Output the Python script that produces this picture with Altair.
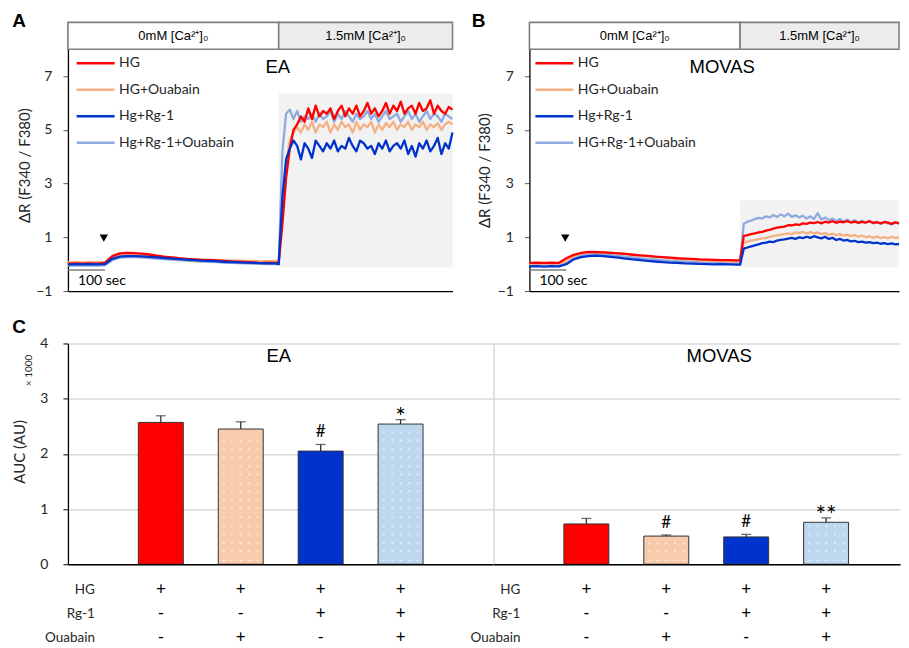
import altair as alt
import pandas as pd

SANS = "Liberation Sans"
CAL = "Lato"
INK = "#262626"

# ---------------- Panels A & B : ratio traces ----------------
T_BASE = list(range(0, 561, 20))
T_SWITCH = [570]
T_PLAT_A = list(range(580, 1041, 10))
T_PLAT_B = list(range(580, 1001, 10))
A_TIME = T_BASE + T_SWITCH + T_PLAT_A
B_TIME = T_BASE + T_SWITCH + T_PLAT_B

A_HG = [0.02, 0.03, 0.02, 0.03, 0.02, 0.05, 0.30, 0.40, 0.42, 0.41, 0.39, 0.36, 0.32, 0.28, 0.25,
        0.22, 0.20, 0.18, 0.16, 0.15, 0.14, 0.12, 0.10, 0.09, 0.08, 0.07, 0.04, 0.06, 0.05] + [0.05] + \
       [1.5, 3.2, 4.3, 5.0, 5.2, 5.5, 5.3, 5.8, 5.4, 5.9, 5.5, 5.7, 5.6, 5.8, 5.4, 5.7, 5.9, 5.5, 5.8, 5.6,
        5.9, 5.5, 5.7, 6.0, 5.6, 5.8, 5.5, 5.7, 6.0, 5.6, 5.9, 5.7, 6.05, 5.6, 5.8, 5.9, 5.6, 6.0, 5.7, 5.8,
        6.1, 5.6, 5.9, 5.7, 5.6, 5.85, 5.75]
A_HGO = [0.07, 0.08, 0.07, 0.08, 0.07, 0.08, 0.25, 0.33, 0.35, 0.35, 0.34, 0.32, 0.29, 0.26, 0.24,
         0.22, 0.20, 0.19, 0.18, 0.17, 0.16, 0.15, 0.14, 0.13, 0.12, 0.12, 0.11, 0.11, 0.12] + [0.10] + \
        [2.0, 3.8, 4.6, 4.9, 5.1, 4.9, 5.2, 5.0, 5.3, 4.9, 5.2, 5.1, 5.3, 4.9, 5.2, 5.0, 5.3, 5.1, 5.2, 4.9,
         5.3, 5.0, 5.2, 5.1, 5.3, 4.9, 5.2, 5.0, 5.25, 5.1, 5.3, 5.0, 5.2, 5.1, 5.3, 5.0, 5.2, 5.1, 5.3, 5.0,
         5.2, 5.1, 5.25, 5.0, 5.2, 5.3, 5.2]
A_RG = [-0.02, 0.00, -0.01, 0.00, -0.01, 0.00, 0.20, 0.28, 0.30, 0.30, 0.29, 0.27, 0.25, 0.23, 0.21,
        0.19, 0.17, 0.15, 0.13, 0.12, 0.11, 0.09, 0.08, 0.07, 0.06, 0.05, 0.04, 0.03, 0.03] + [0.0] + \
       [2.5, 3.9, 4.3, 4.6, 4.4, 3.9, 4.5, 4.3, 3.95, 4.6, 4.4, 4.2, 4.5, 4.3, 4.6, 4.2, 4.4, 4.3, 4.7, 4.4,
        4.2, 4.6, 4.5, 4.3, 4.4, 4.1, 4.5, 4.3, 4.6, 4.2, 4.4, 4.5, 4.3, 4.6, 4.1, 4.4, 4.0, 4.5, 4.3, 4.6,
        4.2, 4.4, 4.7, 4.1, 4.5, 4.3, 4.9]
A_RGO = [-0.05, -0.04, -0.05, -0.04, -0.05, -0.04, 0.15, 0.24, 0.26, 0.26, 0.25, 0.23, 0.21, 0.19, 0.17,
         0.15, 0.13, 0.11, 0.10, 0.09, 0.08, 0.06, 0.05, 0.04, 0.03, 0.02, 0.01, 0.00, 0.00] + [0.0] + \
        [4.2, 5.6, 5.75, 5.4, 5.7, 5.3, 5.5, 5.4, 5.6, 5.3, 5.6, 5.4, 5.5, 5.7, 5.3, 5.6, 5.4, 5.7, 5.5, 5.3,
         5.6, 5.4, 5.5, 5.7, 5.4, 5.6, 5.3, 5.5, 5.7, 5.4, 5.5, 5.6, 5.3, 5.5, 5.7, 5.4, 5.6, 5.3, 5.5, 5.7,
         5.4, 5.6, 5.5, 5.3, 5.6, 5.5, 5.4]

B_HG = [0.05, 0.06, 0.05, 0.06, 0.05, 0.22, 0.35, 0.42, 0.46, 0.45, 0.44, 0.42, 0.40, 0.38, 0.35,
        0.33, 0.31, 0.28, 0.26, 0.24, 0.22, 0.21, 0.20, 0.18, 0.17, 0.16, 0.15, 0.15, 0.14] + [0.15] + \
       [1.05, 1.08, 1.12, 1.15, 1.18, 1.20, 1.25, 1.28, 1.32, 1.36, 1.38, 1.40, 1.45, 1.44, 1.48, 1.46,
        1.52, 1.50, 1.55, 1.53, 1.57, 1.52, 1.58, 1.55, 1.60, 1.54, 1.58, 1.56, 1.60, 1.55, 1.58, 1.54,
        1.57, 1.55, 1.60, 1.54, 1.56, 1.52, 1.57, 1.55, 1.50, 1.56, 1.53]
B_HGO = [0.02, 0.03, 0.02, 0.03, 0.02, 0.10, 0.30, 0.40, 0.45, 0.46, 0.45, 0.43, 0.40, 0.38, 0.35,
         0.32, 0.30, 0.28, 0.25, 0.23, 0.21, 0.19, 0.17, 0.15, 0.13, 0.12, 0.11, 0.10, 0.10] + [0.10] + \
        [0.80, 0.84, 0.88, 0.90, 0.93, 0.96, 0.98, 1.02, 1.04, 1.07, 1.10, 1.12, 1.15, 1.12, 1.18, 1.16,
         1.20, 1.14, 1.19, 1.15, 1.18, 1.12, 1.16, 1.10, 1.14, 1.08, 1.12, 1.06, 1.10, 1.04, 1.08, 1.02,
         1.06, 1.00, 1.04, 0.98, 1.03, 0.97, 1.01, 0.96, 1.02, 0.97, 1.00]
B_RG = [-0.08, -0.07, -0.09, -0.07, -0.08, 0.00, 0.18, 0.26, 0.30, 0.32, 0.30, 0.27, 0.24, 0.21, 0.18,
        0.15, 0.12, 0.10, 0.08, 0.06, 0.05, 0.03, 0.02, 0.01, 0.00, -0.01, 0.00, -0.01, -0.02] + [-0.02] + \
       [0.58, 0.62, 0.66, 0.70, 0.74, 0.78, 0.80, 0.84, 0.82, 0.88, 0.90, 0.92, 0.95, 0.98, 0.94, 1.00,
        0.97, 1.02, 0.98, 1.04, 1.00, 0.96, 1.02, 0.94, 0.98, 0.90, 0.94, 0.88, 0.90, 0.85, 0.87, 0.82,
        0.84, 0.80, 0.82, 0.78, 0.80, 0.76, 0.78, 0.75, 0.77, 0.74, 0.75]
B_RGO = [0.00, 0.01, -0.01, 0.01, 0.00, 0.08, 0.25, 0.33, 0.36, 0.37, 0.36, 0.34, 0.31, 0.28, 0.25,
         0.22, 0.20, 0.18, 0.15, 0.13, 0.11, 0.10, 0.09, 0.07, 0.06, 0.06, 0.05, 0.05, 0.04] + [0.05] + \
        [1.50, 1.58, 1.62, 1.68, 1.72, 1.70, 1.78, 1.74, 1.82, 1.76, 1.85, 1.78, 1.88, 1.76, 1.82, 1.74,
         1.80, 1.70, 1.78, 1.68, 1.90, 1.66, 1.74, 1.64, 1.70, 1.60, 1.68, 1.58, 1.66, 1.56, 1.64, 1.55,
         1.62, 1.54, 1.60, 1.52, 1.58, 1.50, 1.56, 1.52, 1.48, 1.55, 1.50]

A_LABELS = ["HG", "HG+Ouabain", "Hg+Rg-1", "Hg+Rg-1+Ouabain"]
B_LABELS = ["HG", "HG+Ouabain", "Hg+Rg-1", "HG+Rg-1+Ouabain"]
LINE_COLORS = ["#FF0000", "#F4B183", "#0033CC", "#8FAADC"]
DRAW_ORDER = [3, 1, 0, 2]

CA_PHASES = ["0mM [Ca²⁺]₀", "1.5mM [Ca²⁺]₀"]
CA_SWITCH = 570
ARROW_T = 97
ARROW_V = 0.97
SHADE_BOTTOM = -0.11

# ---------------- Panel C : AUC bars ----------------
COND = ["HG", "HG+Ouabain", "HG+Rg-1", "HG+Rg-1+Ouabain"]
BAR_COLORS = ["#FF0000", "#F8CBAD", "#0033CC", "#BDD7EE"]
EA_AUC = [2.57, 2.45, 2.05, 2.54]
EA_SE = [0.12, 0.13, 0.12, 0.08]
EA_SIG = ["", "", "#", "*"]
MO_AUC = [0.73, 0.51, 0.495, 0.76]
MO_SE = [0.10, 0.02, 0.045, 0.08]
MO_SIG = ["", "#", "#", "**"]
ROW_NAMES = ["HG", "Rg-1", "Ouabain"]
HG_ROW = ["+", "+", "+", "+"]
RG_ROW = ["-", "-", "+", "+"]
OUA_ROW = ["-", "+", "-", "+"]


def one_text(txt, x, y, **kw):
    return alt.Chart(pd.DataFrame({"txt": [txt]})).mark_text(**kw).encode(
        text="txt:N", x=alt.value(x), y=alt.value(y))


def trace_panel(times, series, labels, tmax, width, shade_top, cell, letter,
                letter_x, cell_x, title_x, title_y, legend_x):
    rows = []
    for k in DRAW_ORDER:
        for t, v in zip(times, series[k]):
            rows.append({"t": t, "v": v, "s": labels[k]})
    df = pd.DataFrame(rows)
    xsc = alt.Scale(domain=[0, tmax], nice=False, zero=False)
    ysc = alt.Scale(domain=[-1, 9], nice=False, zero=False)
    xax = alt.Axis(title=None, labels=False, ticks=False, grid=False,
                   domainColor="black", domainWidth=1.3)
    yax = alt.Axis(title="ΔR (F340 / F380)", values=[-1, 1, 3, 5, 7], grid=False,
                   domainColor="black", domainWidth=1.3, tickColor="#595959", tickSize=5,
                   labelFont=CAL, labelFontSize=14, labelColor=INK, labelPadding=11,
                   titleFont=CAL, titleFontSize=15, titleFontWeight="normal", titleColor=INK,
                   titleX=title_x, titleY=title_y, titleAngle=-90, titleAlign="center",
                   titleBaseline="middle")
    col = alt.Color("s:N", scale=alt.Scale(domain=labels, range=LINE_COLORS), legend=None)
    shade_df = pd.DataFrame({"t": [CA_SWITCH], "t2": [tmax], "v": [SHADE_BOTTOM], "v2": [shade_top]})
    shade = alt.Chart(shade_df).mark_rect(color="#F2F2F2").encode(
        x=alt.X("t:Q", scale=xsc, axis=xax), x2="t2:Q",
        y=alt.Y("v:Q", scale=ysc, axis=yax), y2="v2:Q")
    lines = []
    for k in DRAW_ORDER:
        lines.append(alt.Chart(df).transform_filter(alt.datum.s == labels[k]).mark_line(
            strokeWidth=2.3, strokeJoin="round").encode(
            x=alt.X("t:Q", scale=xsc, axis=xax), y=alt.Y("v:Q", scale=ysc, axis=yax), color=col))
    hdr_df = pd.DataFrame({"t": [0, CA_SWITCH], "t2": [CA_SWITCH, tmax], "label": CA_PHASES,
                           "fill": ["#FFFFFF", "#ECECEC"], "mid": [CA_SWITCH / 2, (CA_SWITCH + tmax) / 2]})
    hdr = alt.Chart(hdr_df).mark_rect(stroke="#7F7F7F", strokeWidth=1.6).encode(
        x=alt.X("t:Q", scale=xsc, axis=xax), x2="t2:Q",
        y=alt.datum(8), y2=alt.datum(9), fill=alt.Fill("fill:N", scale=None))
    hdr_txt = alt.Chart(hdr_df).mark_text(font=SANS, fontSize=13, color="black").encode(
        x=alt.X("mid:Q", scale=xsc, axis=xax), y=alt.datum(8.5), text="label:N")
    arrow = alt.Chart(pd.DataFrame({"t": [ARROW_T], "v": [ARROW_V]})).mark_point(
        shape="triangle-down", filled=True, color="black", size=70, opacity=1).encode(
        x=alt.X("t:Q", scale=xsc, axis=xax), y=alt.Y("v:Q", scale=ysc, axis=yax))
    sbar = alt.Chart(pd.DataFrame({"t": [0], "t2": [100], "v": [-0.22]})).mark_rule(
        color="#7F7F7F", strokeWidth=1.5).encode(
        x=alt.X("t:Q", scale=xsc, axis=xax), x2="t2:Q", y=alt.Y("v:Q", scale=ysc, axis=yax))
    sbar_txt = alt.Chart(pd.DataFrame({"t": [27], "v": [-0.62], "txt": ["100 sec"]})).mark_text(
        align="left", font=CAL, fontSize=14, color="black").encode(
        x=alt.X("t:Q", scale=xsc, axis=xax), y=alt.Y("v:Q", scale=ysc, axis=yax), text="txt:N")
    # legend (drawn by hand inside the plot)
    leg = []
    for i, lab in enumerate(labels):
        ly = 41 + 26.5 * i
        leg.append(alt.Chart(pd.DataFrame({"s": [lab]})).mark_rule(
            strokeWidth=2.5, color=LINE_COLORS[i]).encode(
            x=alt.value(legend_x), x2=alt.value(legend_x + 38), y=alt.value(ly)))
        leg.append(one_text(lab, legend_x + 42.5, ly, align="left", baseline="middle",
                            font=CAL, fontSize=14, color=INK))
    cell_t = one_text(cell, cell_x, 45, font=SANS, fontSize=18.5, color="black")
    let_t = one_text(letter, letter_x, -1, font=SANS, fontSize=19, fontWeight="bold", color="black")
    return alt.layer(shade, *lines, hdr, hdr_txt, arrow, sbar, sbar_txt, *leg, cell_t, let_t).properties(
        width=width, height=269)


def band_scale(pad_outer, align):
    return alt.Scale(type="band", domain=COND, paddingInner=0.4375, paddingOuter=pad_outer, align=align)


def bar_panel(values, se, sig, width, pad_outer, align, main, cell, cell_x):
    hi = [v + s for v, s in zip(values, se)]
    df = pd.DataFrame({"cond": COND, "auc": values, "hi": hi, "sig": sig})
    xsc = band_scale(pad_outer, align)
    xax = alt.Axis(title=None, labels=False, ticks=False, domainColor="black", domainWidth=1.3, zindex=1)
    ysc = alt.Scale(domain=[0, 4], nice=False)
    if main:
        yax = alt.Axis(values=[0, 1, 2, 3, 4], title="AUC (AU)", grid=True, gridColor="#D9D9D9",
                       gridWidth=1.5, domainColor="black", domainWidth=1.3, tickColor="black",
                       tickSize=5, labelFont=CAL, labelFontSize=14, labelColor=INK, labelPadding=15,
                       titleFont=CAL, titleFontSize=15, titleFontWeight="normal", titleColor=INK,
                       titleX=-48, titleY=108, titleAngle=-90, titleAlign="center",
                       titleBaseline="middle", zindex=0)
    else:
        yax = alt.Axis(values=[0, 1, 2, 3, 4], title=None, labels=False, ticks=False, grid=True,
                       gridColor="#D9D9D9", gridWidth=1.5, domainColor="#D9D9D9", domainWidth=1.5,
                       zindex=0)
    X = alt.X("cond:N", scale=xsc, axis=xax, sort=COND)
    base = alt.Chart(df)
    bars = base.mark_bar(stroke="#333333", strokeWidth=1).encode(
        x=X, y=alt.Y("auc:Q", scale=ysc, axis=yax),
        fill=alt.Fill("cond:N", scale=alt.Scale(domain=COND, range=BAR_COLORS), legend=None))
    # white dot texture of the Ouabain bars
    dots = []
    for c, v in zip(COND, values):
        if "Ouabain" in c:
            yv = 0.08
            while yv < v - 0.05:
                dots.append({"cond": c, "y": round(yv, 3)})
                yv += 0.155
    dot_layers = []
    for dx in [-17, -8.5, 0, 8.5, 17]:
        dot_layers.append(alt.Chart(pd.DataFrame(dots)).mark_text(
            text="•", fontSize=5, color="white", dx=dx, baseline="middle").encode(
            x=X, y=alt.Y("y:Q", scale=ysc, axis=yax)))
    err = base.mark_rule(color="#333333", strokeWidth=1.3).encode(
        x=X, y=alt.Y("auc:Q", scale=ysc, axis=yax), y2="hi:Q")
    cap = base.mark_tick(color="#333333", thickness=1.3, size=10, orient="horizontal").encode(
        x=X, y=alt.Y("hi:Q", scale=ysc, axis=yax))
    hash_t = base.transform_filter(alt.datum.sig == "#").mark_text(
        font=CAL, fontSize=17, baseline="alphabetic", dy=-7, color="black").encode(
        x=X, y=alt.Y("hi:Q", scale=ysc, axis=yax), text="sig:N")
    star_t = base.transform_filter((alt.datum.sig == "*") | (alt.datum.sig == "**")).mark_text(
        font=CAL, fontSize=25, baseline="alphabetic", dy=6, color="black").encode(
        x=X, y=alt.Y("hi:Q", scale=ysc, axis=yax), text="sig:N")
    layers = [bars, *dot_layers, err, cap, hash_t, star_t,
              one_text(cell, cell_x, 13, font=SANS, fontSize=18.5, color="black")]
    if main:
        layers.append(one_text("× 1000", -39, 27, font=CAL, fontSize=10, angle=270, color=INK))
        layers.append(one_text("C", -49, -16, font=SANS, fontSize=19, fontWeight="bold", color="black"))
    return alt.layer(*layers).properties(width=width, height=221)


def sign_table(width, pad_outer, align):
    rows = []
    for r, vals in zip(ROW_NAMES, [HG_ROW, RG_ROW, OUA_ROW]):
        for c, s in zip(COND, vals):
            rows.append({"row": r, "cond": c, "sign": s})
    xsc = band_scale(pad_outer, align)
    ysc = alt.Scale(type="point", domain=ROW_NAMES, padding=0)
    signs = alt.Chart(pd.DataFrame(rows)).mark_text(font=CAL, fontSize=17, color="black").encode(
        x=alt.X("cond:N", scale=xsc, axis=None, sort=COND),
        y=alt.Y("row:N", scale=ysc, axis=None), text="sign:N")
    labs = alt.Chart(pd.DataFrame({"row": ROW_NAMES})).mark_text(
        align="right", font=CAL, fontSize=13.5, color=INK).encode(
        x=alt.value(27), y=alt.Y("row:N", scale=ysc, axis=None), text="row:N")
    return alt.layer(signs, labs).properties(width=width, height=48)


A = trace_panel(A_TIME, [A_HG, A_HGO, A_RG, A_RGO], A_LABELS, 1040, 385, 6.35, "EA", "A",
                -49, 210, -43, 143, 8.7)
B = trace_panel(B_TIME, [B_HG, B_HGO, B_RG, B_RGO], B_LABELS, 1000, 370, 2.38, "MOVAS", "B",
                -51, 193, -45, 148, 6)
top = alt.hconcat(A, B, spacing=77, bounds="flush").resolve_scale(color="independent")

C_EA = bar_panel(EA_AUC, EA_SE, EA_SIG, 426, 0.881, 0.5, True, "EA", 211)
C_MO = bar_panel(MO_AUC, MO_SE, MO_SIG, 407, 0.7625, 0.578, False, "MOVAS", 226)
c_row = alt.hconcat(C_EA, C_MO, spacing=0, bounds="flush")
t_row = alt.hconcat(sign_table(426, 0.881, 0.5), sign_table(407, 0.7625, 0.578),
                    spacing=0, bounds="flush")
lower = alt.vconcat(c_row, t_row, spacing=10)

chart = alt.vconcat(top, lower, spacing=20.5).properties(
    padding={"left": 4, "top": 4, "right": 0, "bottom": 0}
).configure_view(stroke=None)

chart.save("out.html", embed_options={"renderer": "svg", "actions": False})
